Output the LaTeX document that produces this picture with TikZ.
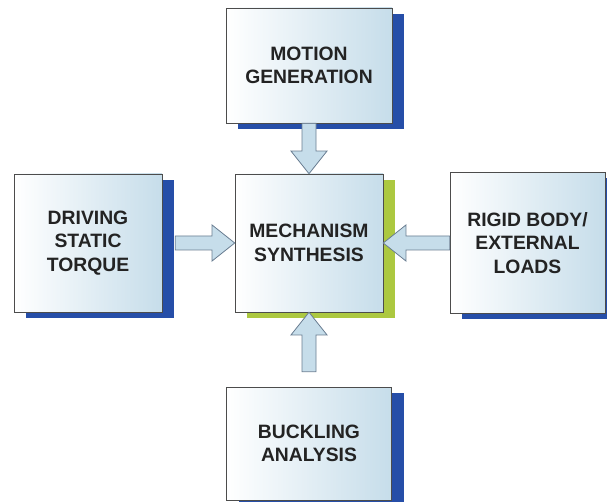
\documentclass[tikz,border=0pt]{standalone}
\usepackage{fontspec}
\setmainfont{Liberation Sans}
\usetikzlibrary{calc,shadows}
\definecolor{shadowblue}{RGB}{38,78,168}
\definecolor{shadowgreen}{RGB}{172,200,64}
\definecolor{paleblue}{RGB}{198,221,234}
\definecolor{arrowedge}{RGB}{105,125,145}
\definecolor{textgray}{RGB}{35,35,35}
\tikzset{
    every node/.style={draw=black!70, thin, align=center, text=textgray,
    	font=\fontsize{14.5}{17.5}\selectfont\bfseries,
    	left color=white, right color=paleblue}
}
\tikzset{
    blueshadow/.style={drop shadow={shadow xshift=9pt, shadow yshift=-4.5pt,
    	fill=shadowblue, opacity=1}},
    greenshadow/.style={drop shadow={shadow xshift=9pt, shadow yshift=-4.5pt,
    	fill=shadowgreen, opacity=1}}
}
\tikzset{
    barrow/.style={draw=arrowedge, fill=paleblue, line width=0.6pt,
    	to path={let \p1=(\tikztostart), \p2=(\tikztotarget),
    	\n1={atan2(\y2-\y1,\x2-\x1)}, \n2={veclen(\x2-\x1,\y2-\y1)-17pt} in
    	($(\p1)+(\n1+90:5.25pt)$) -- ($(\p1)+(\n1+90:5.25pt)+(\n1:\n2)$)
    	-- ($(\p1)+(\n1+90:13.5pt)+(\n1:\n2)$) -- (\p2)
    	-- ($(\p1)+(\n1-90:13.5pt)+(\n1:\n2)$)
    	-- ($(\p1)+(\n1-90:5.25pt)+(\n1:\n2)$)
    	-- ($(\p1)+(\n1-90:5.25pt)$) -- cycle}}
}

\begin{document}
\begin{tikzpicture}[x=0.75pt, y=-0.75pt]
  \useasboundingbox (0,0) rectangle (607,502);
  \node (motion) [blueshadow, minimum width=124.5pt, minimum height=86.25pt] at (309, 65.5) {MOTION\\GENERATION};
  \node (mech) [greenshadow, minimum width=111pt, minimum height=103.5pt] at (309, 243) {MECHANISM\\SYNTHESIS};
  \node (driving) [blueshadow, minimum width=111pt, minimum height=103.5pt] at (88, 243) {DRIVING\\STATIC\\TORQUE};
  \node (rigid) [blueshadow, minimum width=116.25pt, minimum height=105.75pt] at (527.5, 243) {RIGID BODY/\\EXTERNAL\\LOADS};
  \node (buckling) [blueshadow, minimum width=123.75pt, minimum height=84.75pt] at (309, 443.5) {BUCKLING\\ANALYSIS};

  \draw[barrow] (motion.south) to (mech.north);
  \draw[barrow] ([xshift=9.75pt]driving.east) to (mech.west);
  \draw[barrow] (rigid.west) to (mech.east);
  \draw[barrow] ([yshift=11.25pt]buckling.north) to (mech.south);
\end{tikzpicture}
\end{document}
